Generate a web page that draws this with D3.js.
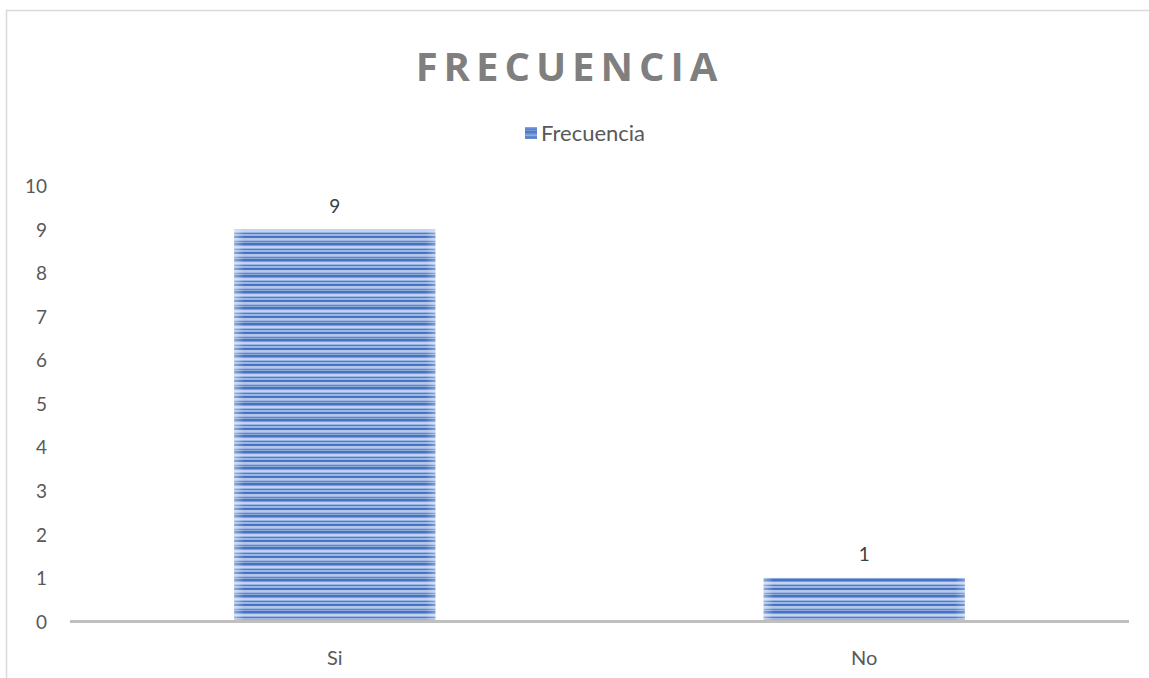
<!DOCTYPE html>
<html>
<head>
<meta charset="utf-8">
<script src="https://cdn.jsdelivr.net/npm/d3@7"></script>
<style>
  html, body { margin: 0; padding: 0; background: #fff; }
  svg { display: block; }
</style>
</head>
<body>
<svg id="chart" width="1149" height="678"></svg>
<script>
const categories = ["Si", "No"];
const values = [9, 1];
const seriesName = "Frecuencia";
const titleText = "FRECUENCIA";
const yTicks = [0, 1, 2, 3, 4, 5, 6, 7, 8, 9, 10];

const svg = d3.select("#chart");
const W = 1149, H = 678;
const font = "Lato, 'Open Sans', sans-serif";
const textColor = "#595959";

// chart border
svg.append("rect").attr("x", 6.5).attr("y", 10.5).attr("width", W + 10).attr("height", H + 10)
  .attr("fill", "#fff").attr("stroke", "#d9d9d9").attr("stroke-width", 1.5);

// pattern
const defs = svg.append("defs");
const pat = defs.append("pattern").attr("id", "stripes").attr("patternUnits", "userSpaceOnUse")
  .attr("x", 0).attr("y", 227).attr("width", 10).attr("height", 16);
const stripeRows = [
  [0, 2, "#4472c4"], [2, 1.5, "#7b9bd6"], [3.5, 2, "#c5d3ee"], [5.5, 2, "#4d7bcb"],
  [7.5, 1.5, "#9ab3e1"], [9, 2, "#4472c4"], [11, 2.5, "#b4c7e7"], [13.5, 1.5, "#5a85cf"], [15, 1, "#8eaadc"]
];
stripeRows.forEach(([y, h, c]) => pat.append("rect").attr("x", 0).attr("y", y).attr("width", 10).attr("height", h).attr("fill", c));

const edge = defs.append("linearGradient").attr("id", "edge").attr("x1", "0").attr("x2", "1").attr("y1", "0").attr("y2", "0");
edge.append("stop").attr("offset", "0%").attr("stop-color", "#fff").attr("stop-opacity", 0.4);
edge.append("stop").attr("offset", "5%").attr("stop-color", "#fff").attr("stop-opacity", 0);
edge.append("stop").attr("offset", "95%").attr("stop-color", "#fff").attr("stop-opacity", 0);
edge.append("stop").attr("offset", "100%").attr("stop-color", "#fff").attr("stop-opacity", 0.3);

const x = d3.scaleBand().domain(categories).range([70, 1129]).paddingInner(0.62).paddingOuter(0.31);
const y = d3.scaleLinear().domain([0, 10]).range([621.5, 186]);

// title
const ls = 6;
svg.append("text").attr("x", 566.5 + ls / 2).attr("y", 81).attr("text-anchor", "middle")
  .attr("font-family", "'Open Sans', sans-serif").attr("font-weight", "bold").attr("font-size", 40)
  .attr("letter-spacing", ls).attr("fill", "#7f7f7f").text(titleText);

// legend
svg.append("rect").attr("x", 525).attr("y", 127).attr("width", 12).attr("height", 12).attr("fill", "#5b83cc");
svg.append("rect").attr("x", 525).attr("y", 127).attr("width", 12).attr("height", 12).attr("fill", "url(#stripes)").attr("opacity", 0.5);
svg.append("text").attr("x", 541).attr("y", 141).attr("font-family", font).attr("font-size", 22)
  .attr("fill", textColor).text(seriesName);

// y axis labels
const yAxis = d3.axisLeft(y).tickValues(yTicks).tickSize(0).tickPadding(0).tickFormat(d3.format("d"));
const yg = svg.append("g").attr("transform", "translate(47,0)").call(yAxis);
yg.select(".domain").remove();
yg.selectAll("text").attr("font-family", font).attr("font-size", 19).attr("fill", textColor).attr("dy", "0.35em");

// bars
const bars = svg.append("g");
bars.selectAll("rect.bar").data(values).join("rect").attr("class", "bar")
  .attr("x", (d, i) => x(categories[i])).attr("width", x.bandwidth())
  .attr("y", d => y(d)).attr("height", d => y(0) - y(d)).attr("fill", "url(#stripes)");
bars.selectAll("rect.edge").data(values).join("rect").attr("class", "edge")
  .attr("x", (d, i) => x(categories[i])).attr("width", x.bandwidth())
  .attr("y", d => y(d)).attr("height", d => y(0) - y(d)).attr("fill", "url(#edge)");

// data labels
svg.append("g").selectAll("text").data(values).join("text")
  .attr("x", (d, i) => x(categories[i]) + x.bandwidth() / 2).attr("y", d => y(d) - 17)
  .attr("text-anchor", "middle").attr("font-family", font).attr("font-size", 19)
  .attr("fill", "#404040").text(d => d);

// x axis
const xAxis = d3.axisBottom(x).tickSize(0).tickPadding(0);
const xg = svg.append("g").attr("transform", `translate(0,${y(0)})`).call(xAxis);
xg.select(".domain").attr("stroke", "#bfbfbf").attr("stroke-width", 3).attr("d", "M70,0H1129");
xg.selectAll("text").attr("font-family", font).attr("font-size", 20).attr("fill", textColor).attr("dy", "0").attr("y", 43);
</script>
</body>
</html>
